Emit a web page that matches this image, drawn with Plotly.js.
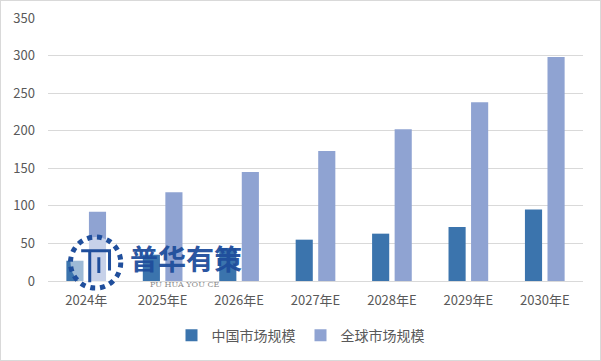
<!DOCTYPE html>
<html>
<head>
<meta charset="utf-8">
<script src="https://cdn.plot.ly/plotly-3.0.1.min.js"></script>
<style>
html,body{margin:0;padding:0;background:#fff;}
#chart{width:599px;height:359px;border:1px solid #d9d9d9;}
</style>
</head>
<body>
<div id="chart"></div>
<script>
const categories = ["2024年","2025年E","2026年E","2027年E","2028年E","2029年E","2030年E"];
const chinaValues = [27, 35, 44, 55, 63, 72, 95];
const globalValues = [92, 118, 145, 173, 202, 238, 298];
const seriesNames = ["中国市场规模", "全球市场规模"];
const yTicks = [0, 50, 100, 150, 200, 250, 300, 350];

const font = "'Noto Sans CJK SC', 'Microsoft YaHei', sans-serif";

const data = [
  {type:"bar", x:categories, y:chinaValues, name:seriesNames[0],
   marker:{color:"#3b74ad"}},
  {type:"bar", x:categories, y:globalValues, name:seriesNames[1],
   marker:{color:"#8fa3d2"}}
];

const layout = {
  width:599, height:359,
  margin:{l:47, r:17, t:17, b:79},
  paper_bgcolor:"#fff", plot_bgcolor:"#fff",
  barmode:"group", bargap:0.41, bargroupgap:0.24,
  font:{family:font, color:"#595959", size:12},
  showlegend:true,
  legend:{orientation:"h", x:0.5, xanchor:"center", xref:"container",
          y:0.068, yanchor:"middle", yref:"container",
          font:{size:14, color:"#595959", family:font}, itemwidth:30},
  xaxis:{type:"category", showgrid:false, showline:false, ticks:"", automargin:false,
         ticklabelstandoff:10,
         tickfont:{size:13, color:"#595959", family:font}},
  yaxis:{range:[0,350], tickvals:yTicks, showgrid:true, gridcolor:"#d9d9d9",
         gridwidth:1, zeroline:true, zerolinecolor:"#d9d9d9", zerolinewidth:1,
         showline:false, ticks:"", ticklen:0, automargin:false, ticklabelstandoff:12,
         tickfont:{size:13, color:"#595959", family:font}},
  shapes:[
    {type:"circle", xref:"paper", yref:"paper", x0:0.042, x1:0.136, y0:-0.027, y1:0.167,
     line:{color:"#1f4e9c", width:5, dash:"dot"}, fillcolor:"rgba(255,255,255,0.5)"},
    {type:"path", xref:"paper", yref:"paper",
     path:"M 0.062 0.115 L 0.115 0.115 L 0.115 0.04 M 0.078 0.115 L 0.078 -0.005 M 0.095 0.09 L 0.095 0.03",
     line:{color:"#1f4e9c", width:3}}
  ],
  annotations:[
    {text:"<b>普华有策</b>", xref:"paper", yref:"paper", x:0.15, y:0.087,
     xanchor:"left", yanchor:"middle", showarrow:false,
     font:{size:28, color:"#1f4e9c", family:font}, opacity:0.95},
    {text:"PU HUA YOU CE", xref:"paper", yref:"paper", x:0.256, y:-0.012,
     xanchor:"center", yanchor:"middle", showarrow:false,
     font:{size:8, color:"#8a8a8a", family:"'DejaVu Serif', serif"}}
  ]
};

Plotly.newPlot("chart", data, layout, {displayModeBar:false, staticPlot:true});
</script>
</body>
</html>
